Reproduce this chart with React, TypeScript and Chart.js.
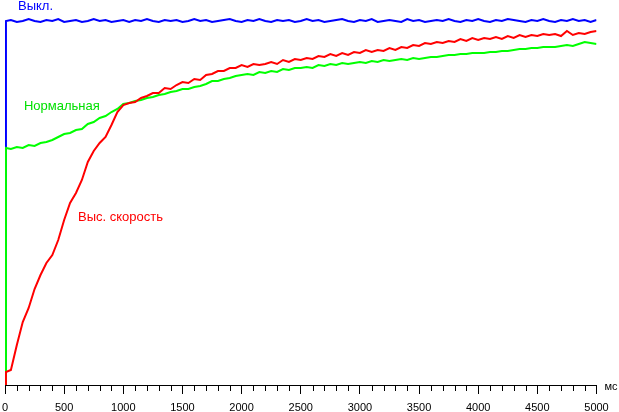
import React, { useEffect, useRef } from "react";
import { Chart, registerables } from "chart.js";

Chart.register(...registerables);

// time axis (ms)
const timeMs = [
  0, 8, 50, 100, 150, 200, 250, 300, 350, 400, 450, 500, 550, 600, 650, 700, 750, 800, 850, 900, 950, 1000,
  1050, 1100, 1150, 1200, 1250, 1300, 1350, 1400, 1450, 1500,
  1550, 1600, 1650, 1700, 1750, 1800, 1850, 1900, 1950, 2000,
  2050, 2100, 2150, 2200, 2250, 2300, 2350, 2400, 2450, 2500,
  2550, 2600, 2650, 2700, 2750, 2800, 2850, 2900, 2950, 3000,
  3050, 3100, 3150, 3200, 3250, 3300, 3350, 3400, 3450, 3500,
  3550, 3600, 3650, 3700, 3750, 3800, 3850, 3900, 3950, 4000,
  4050, 4100, 4150, 4200, 4250, 4300, 4350, 4400, 4450, 4500,
  4550, 4600, 4650, 4700, 4750, 4800, 4850, 4900, 4950, 5000,
];

// "Выс. скорость"
const redLevel = [
  0, 13, 15, 40, 63, 77, 96, 110, 122, 130, 145, 165, 182, 192, 205, 223, 234, 242, 248, 260, 273, 280,
  282, 283, 287, 289, 292, 292, 297, 296, 300, 303,
  302, 306, 305, 310, 311, 314, 314, 317, 317, 320,
  318, 321, 320, 321, 323, 321, 325, 323, 326, 325,
  327, 326, 329, 328, 331, 329, 332, 330, 333, 332,
  335, 333, 335, 334, 337, 335, 338, 337, 340, 339,
  342, 341, 343, 342, 344, 343, 346, 344, 347, 345,
  347, 346, 348, 346, 349, 347, 350, 348, 350, 349,
  351, 350, 351, 349, 354, 350, 352, 351, 353, 354,
];

// "Нормальная"
const greenLevel = [
  0, 237, 236, 238, 237, 240, 239, 242, 243, 245, 248, 251, 252, 255, 256, 261, 263, 267, 269, 273, 276, 281,
  282, 284, 285, 287, 288, 290, 291, 293, 294, 296,
  296, 298, 299, 301, 304, 304, 306, 307, 309, 310,
  311, 310, 313, 312, 314, 313, 316, 315, 317, 317,
  318, 317, 320, 319, 321, 320, 322, 321, 322, 323,
  322, 324, 323, 325, 324, 325, 326, 325, 327, 326,
  327, 328, 328, 329, 330, 330, 331, 331, 332, 332,
  332, 333, 333, 334, 334, 335, 336, 336, 337, 337,
  338, 338, 338, 339, 340, 339, 341, 343, 342, 341,
];

// "Выкл."
const blueLevel = [
  0, 364, 365, 363, 364, 366, 364, 363, 365, 364, 366, 363, 364, 365, 363, 364, 366, 364, 365, 363, 364, 365,
  363, 365, 364, 366, 364, 363, 365, 364, 365, 363,
  364, 366, 364, 365, 363, 364, 365, 366, 364, 363,
  365, 364, 366, 364, 363, 365, 364, 365, 363, 364,
  366, 364, 365, 363, 364, 365, 366, 364, 363, 365,
  364, 366, 363, 364, 365, 364, 363, 366, 364, 365,
  363, 364, 365, 364, 366, 364, 363, 365, 364, 366,
  364, 363, 365, 364, 366, 365, 364, 363, 365, 364,
  366, 364, 363, 365, 364, 366, 364, 365, 363, 365,
];

const xTickLabelStep = 500;
const xMinorStep = 100;
const unitLabel = "мс";

const noteTexts = ["Выкл.", "Нормальная", "Выс. скорость"];
const noteTimes = [110, 160, 617];
const noteLevels = [375, 275, 164];
const noteColors = ["#0000ff", "#00e000", "#ff0000"];

const FONT = "'Liberation Sans', Arial, sans-serif";

export default function App() {
  const ref = useRef<HTMLCanvasElement | null>(null);

  useEffect(() => {
    if (!ref.current) return;
    const toPts = (arr: number[]) => timeMs.map((t, i) => ({ x: t, y: arr[i] }));

    const overlay = {
      id: "overlay",
      afterDraw(chart: any) {
        const { ctx, scales, chartArea } = chart;
        const xs = scales.x;
        const ys = scales.y;
        ctx.save();
        // minor ticks
        ctx.strokeStyle = "#000";
        ctx.lineWidth = 1;
        xs.ticks.forEach((tk: any) => {
          if (tk.value % xTickLabelStep !== 0) {
            const px = Math.round(xs.getPixelForValue(tk.value)) + 0.5;
            ctx.beginPath();
            ctx.moveTo(px, chartArea.bottom);
            ctx.lineTo(px, chartArea.bottom + 6);
            ctx.stroke();
          }
        });
        // notes
        ctx.font = `13px ${FONT}`;
        ctx.textBaseline = "alphabetic";
        ctx.textAlign = "left";
        noteTexts.forEach((t, i) => {
          ctx.fillStyle = noteColors[i];
          ctx.fillText(t, xs.getPixelForValue(noteTimes[i]), ys.getPixelForValue(noteLevels[i]));
        });
        // unit
        ctx.font = `11px ${FONT}`;
        ctx.fillStyle = "#000";
        ctx.fillText(unitLabel, xs.getPixelForValue(5068), ys.getPixelForValue(-5));
        ctx.restore();
      },
    };

    const chart = new Chart(ref.current, {
      type: "line",
      data: {
        datasets: [
          { label: "Выс. скорость", data: toPts(redLevel), borderColor: "#ff0000", borderWidth: 2, pointRadius: 0, tension: 0 },
          { label: "Нормальная", data: toPts(greenLevel), borderColor: "#00ff00", borderWidth: 2, pointRadius: 0, tension: 0 },
          { label: "Выкл.", data: toPts(blueLevel), borderColor: "#0000ff", borderWidth: 2, pointRadius: 0, tension: 0 },
        ],
      },
      options: {
        animation: false,
        responsive: false,
        events: [],
        layout: { padding: { left: 5, right: 22.5, top: 0, bottom: 0 } },
        plugins: { legend: { display: false }, tooltip: { enabled: false }, title: { display: false } },
        scales: {
          x: {
            type: "linear",
            min: 0,
            max: 5000,
            afterFit: (s: any) => {
              s.height = 27;
              s.paddingLeft = 0;
              s.paddingRight = 0;
            },
            border: { display: true, color: "#000", width: 1 },
            grid: {
              drawOnChartArea: false,
              drawTicks: true,
              tickLength: 9,
              tickColor: (c: any) => (c.tick && c.tick.value % xTickLabelStep === 0 ? "#000" : "rgba(0,0,0,0)"),
            },
            ticks: {
              stepSize: xMinorStep,
              autoSkip: false,
              maxRotation: 0,
              padding: 7,
              color: "#000",
              font: { family: FONT, size: 11 },
              callback: (v: any) => (Number(v) % xTickLabelStep === 0 ? String(v) : ""),
            },
          },
          y: {
            type: "linear",
            min: 0,
            max: 385,
            display: false,
          },
        },
      },
      plugins: [overlay],
    });
    return () => chart.destroy();
  }, []);

  return (
    <div style={{ position: "fixed", left: 0, top: 0, width: 619, height: 412, background: "#fff" }}>
      <canvas ref={ref} width={619} height={412} style={{ width: 619, height: 412 }} />
    </div>
  );
}
